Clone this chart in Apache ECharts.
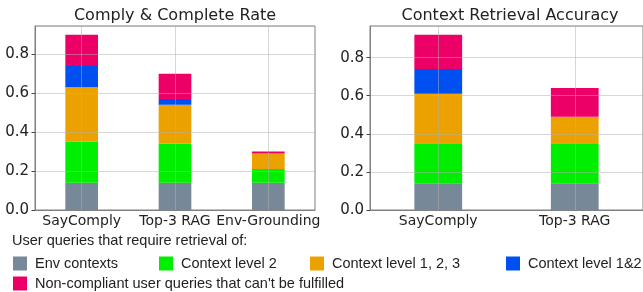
<!DOCTYPE html>
<html>
<head>
<meta charset="utf-8">
<script src="https://cdn.jsdelivr.net/npm/echarts@6/dist/echarts.min.js"></script>
<style>
html,body{margin:0;padding:0;background:#fff;}
#chart{width:643px;height:292px;}
</style>
</head>
<body>
<div id="chart"></div>
<script>
var leftCategories = ['SayComply', 'Top-3 RAG', 'Env-Grounding'];
var rightCategories = ['SayComply', 'Top-3 RAG'];
var seriesNames = ['Env contexts', 'Context level 2', 'Context level 1, 2, 3', 'Context level 1&2',
    "Non-compliant user queries that can't be fulfilled"];
var colors = ['#778899', '#00ee00', '#eba200', '#004ff0', '#ec0068'];

// segment heights, stacked bottom to top
var leftEnv = [0.14, 0.14, 0.14];
var leftLevel2 = [0.21, 0.20, 0.07];
var leftLevel123 = [0.28, 0.20, 0.08];
var leftLevel12 = [0.11, 0.03, 0];
var leftNonCompliant = [0.16, 0.13, 0.01];

var rightEnv = [0.14, 0.14];
var rightLevel2 = [0.21, 0.21];
var rightLevel123 = [0.26, 0.14];
var rightLevel12 = [0.13, 0];
var rightNonCompliant = [0.18, 0.15];

var leftData = [leftEnv, leftLevel2, leftLevel123, leftLevel12, leftNonCompliant];
var rightData = [rightEnv, rightLevel2, rightLevel123, rightLevel12, rightNonCompliant];

var frameColor = '#808080';
var gridColor = 'rgba(176,176,176,0.5)';
var textColor = '#222';

function yLabel(v) {
    if (Math.abs(v * 5 - Math.round(v * 5)) < 1e-6) return v.toFixed(1);
    return '';
}

function makeX(idx, cats) {
    return {
        type: 'category', gridIndex: idx, data: cats, z: 5,
        axisLine: {lineStyle: {color: frameColor}},
        axisTick: {alignWithLabel: true, length: 3.5, lineStyle: {color: '#444'}},
        axisLabel: {color: textColor, fontFamily: 'DejaVu Sans', fontSize: 14, margin: 4, interval: 0, hideOverlap: false},
        splitLine: {show: true, alignWithLabel: true, lineStyle: {color: gridColor, width: 1}}
    };
}

function makeY(idx, max) {
    return {
        type: 'value', gridIndex: idx, min: 0, max: max, interval: 0.2, z: 5,
        axisLine: {show: true, lineStyle: {color: frameColor}},
        axisTick: {show: true, length: 3.5, lineStyle: {color: '#444'}},
        axisLabel: {color: textColor, fontFamily: 'DejaVu Sans', fontSize: 15, margin: 6, formatter: yLabel, showMaxLabel: false},
        splitLine: {show: true, lineStyle: {color: gridColor, width: 1}}
    };
}

var series = [];
for (var i = 0; i < seriesNames.length; i++) {
    series.push({
        name: seriesNames[i], type: 'bar', stack: 'left', xAxisIndex: 0, yAxisIndex: 0,
        barWidth: '35%', itemStyle: {color: colors[i]}, data: leftData[i]
    });
    series.push({
        name: seriesNames[i], type: 'bar', stack: 'right', xAxisIndex: 1, yAxisIndex: 1,
        barWidth: '35%', itemStyle: {color: colors[i]}, data: rightData[i]
    });
}

var legendLeft = [13, 159, 310, 506, 13];
var legendTop = [256, 256, 256, 256, 276];
var legends = [];
for (var j = 0; j < seriesNames.length; j++) {
    legends.push({
        data: [seriesNames[j]], left: legendLeft[j], top: legendTop[j], padding: 0,
        icon: 'rect', itemWidth: 14, itemHeight: 14, selectedMode: false,
        textStyle: {color: textColor, fontFamily: 'Liberation Sans', fontSize: 14.5, padding: [0, 0, 0, 3]}
    });
}

var myChart = echarts.init(document.getElementById('chart'));
var option = {
    animation: false,
    color: colors,
    title: [
        {text: 'Comply & Complete Rate', left: 170, top: 3, textAlign: 'center',
            textStyle: {color: textColor, fontFamily: 'DejaVu Sans', fontSize: 16, fontWeight: 'normal'}},
        {text: 'Context Retrieval Accuracy', left: 505, top: 3, textAlign: 'center',
            textStyle: {color: textColor, fontFamily: 'DejaVu Sans', fontSize: 16, fontWeight: 'normal'}}
    ],
    legend: legends,
    grid: [
        {left: 35, right: 328, top: 26, bottom: 82, show: true, borderColor: frameColor, borderWidth: 1},
        {left: 370, right: -6, top: 26, bottom: 82, show: true, borderColor: frameColor, borderWidth: 1}
    ],
    graphic: [
        {type: 'text', left: 12, top: 233,
            style: {text: 'User queries that require retrieval of:', fill: textColor, font: '14.5px "Liberation Sans"'}}
    ],
    xAxis: [makeX(0, leftCategories), makeX(1, rightCategories)],
    yAxis: [makeY(0, 0.945), makeY(1, 0.966)],
    series: series
};
myChart.setOption(option);
</script>
</body>
</html>
